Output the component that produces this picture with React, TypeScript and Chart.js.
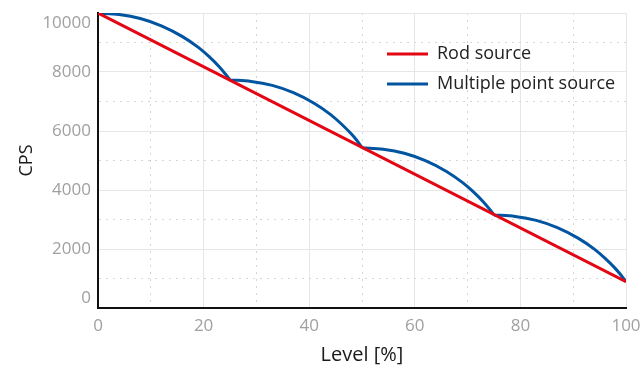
import React, { useEffect, useRef } from "react";
import { Chart, registerables } from "chart.js";

Chart.register(...registerables);

const rodLevel = [0, 100];
const rodCps = [10000, 890];

// Multiple point source: four arcs, separated by gaps (null)
const multiLevel = [
  0, 4, 8, 12, 16, 19, 21, 23, 24, 25,
  25,
  25, 29, 33, 37, 41, 44, 46, 48, 49, 50,
  50,
  50, 54, 58, 62, 66, 69, 71, 73, 74, 75,
  75,
  75, 79, 83, 87, 91, 94, 96, 98, 99, 100,
];
const multiCps: (number | null)[] = [
  10000, 9950, 9815, 9565, 9200, 8835, 8530, 8170, 7960, 7730,
  null,
  7730, 7680, 7545, 7300, 6935, 6565, 6255, 5895, 5685, 5440,
  null,
  5430, 5380, 5245, 4995, 4630, 4260, 3955, 3595, 3385, 3155,
  null,
  3155, 3105, 2970, 2725, 2360, 1995, 1690, 1335, 1125, 890,
];

const xTickValues = [0, 20, 40, 60, 80, 100];
const yTickValues = [0, 2000, 4000, 6000, 8000, 10000];

const FONT = "'Open Sans', 'Noto Sans', sans-serif";
const RED = "#e30613";
const BLUE = "#0054a0";

export default function App() {
  const ref = useRef<HTMLCanvasElement | null>(null);

  useEffect(() => {
    document.body.style.margin = "0";
    if (!ref.current) return;

    const legendPlace = {
      id: "legendPlace",
      afterLayout(chart: any) {
        const lg = chart.legend;
        if (!lg) return;
        const w = lg.width;
        const h = lg.height;
        lg.left = 375;
        lg.top = 33;
        lg.right = lg.left + w;
        lg.bottom = lg.top + h;
      },
    };

    const chart = new Chart(ref.current, {
      type: "line",
      data: {
        datasets: [
          {
            label: "Rod source",
            data: rodLevel.map((x, i) => ({ x, y: rodCps[i] })),
            borderColor: RED,
            backgroundColor: RED,
            borderWidth: 3,
            pointRadius: 0,
          },
          {
            label: "Multiple point source",
            data: multiLevel.map((x, i) => ({ x, y: multiCps[i] })),
            borderColor: BLUE,
            backgroundColor: BLUE,
            borderWidth: 3,
            pointRadius: 0,
            cubicInterpolationMode: "monotone",
            spanGaps: false,
          },
        ],
      },
      options: {
        responsive: false,
        animation: false,
        layout: { padding: { top: 13, right: 17, bottom: 0, left: 0 } },
        plugins: {
          tooltip: { enabled: false },
          legend: {
            position: "chartArea",
            align: "start",
            labels: {
              usePointStyle: true,
              pointStyle: "line",
              pointStyleWidth: 41,
              boxHeight: 3,
              padding: 12,
              color: "#222",
              font: { family: FONT, size: 18 },
            },
          },
        },
        scales: {
          x: {
            type: "linear",
            min: 0,
            max: 100,
            afterFit: (s: any) => {
              s.height = 59;
              s.paddingLeft = 0;
              s.paddingRight = 0;
            },
            ticks: {
              stepSize: 10,
              autoSkip: false,
              maxRotation: 0,
              padding: 8,
              color: "#a0a0a0",
              font: { family: FONT, size: 17 },
              callback: (v: any) => (xTickValues.includes(v) ? String(v) : ""),
            },
            grid: {
              drawTicks: false,
              color: (c: any) =>
                c.tick && xTickValues.includes(c.tick.value) ? "#e6e6e6" : "#d6d6d6",
              lineWidth: 1,
            },
            border: {
              display: true,
              color: "#111",
              width: 2,
              dash: (c: any) =>
                c.tick && !xTickValues.includes(c.tick.value) ? [2, 5] : [],
            },
            title: {
              display: true,
              text: "Level [%]",
              color: "#1a1a1a",
              font: { family: FONT, size: 20 },
              padding: { top: 0, bottom: 0 },
            },
          },
          y: {
            type: "linear",
            min: 0,
            max: 10000,
            afterFit: (s: any) => {
              s.width = 98;
              s.paddingTop = 0;
              s.paddingBottom = 0;
            },
            ticks: {
              stepSize: 1000,
              autoSkip: false,
              padding: 7,
              color: "#a0a0a0",
              font: { family: FONT, size: 17 },
              callback: (v: any) => {
                if (!yTickValues.includes(v)) return "";
                if (v === 10000) return ["", "10000"];
                if (v === 0) return ["0", ""];
                return String(v);
              },
            },
            grid: {
              drawTicks: false,
              color: (c: any) =>
                c.tick && yTickValues.includes(c.tick.value) ? "#e6e6e6" : "#d6d6d6",
              lineWidth: 1,
            },
            border: {
              display: true,
              color: "#111",
              width: 2,
              dash: (c: any) =>
                c.tick && !yTickValues.includes(c.tick.value) ? [2, 5] : [],
            },
            title: {
              display: true,
              text: "CPS",
              color: "#1a1a1a",
              font: { family: FONT, size: 18, weight: "500" },
              padding: { top: 16, bottom: 0 },
            },
          },
        },
      },
      plugins: [legendPlace],
    } as any);

    return () => chart.destroy();
  }, []);

  return (
    <div style={{ width: 643, height: 367 }}>
      <canvas ref={ref} width={643} height={367} />
    </div>
  );
}
